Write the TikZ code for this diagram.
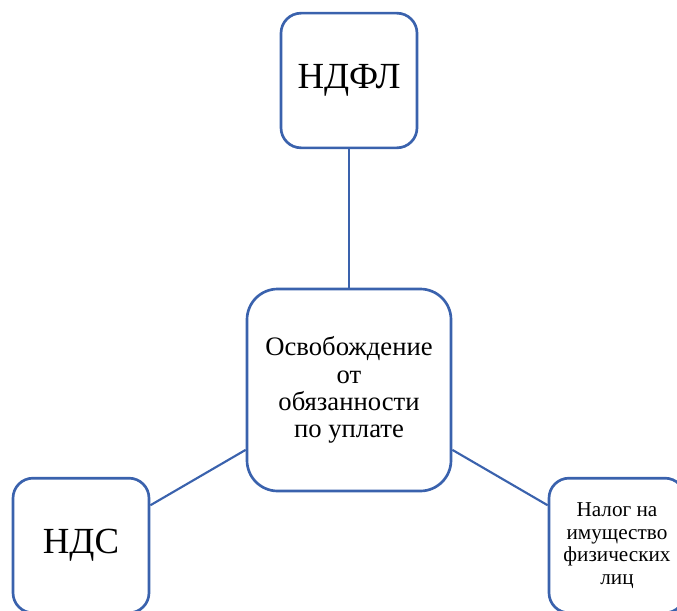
\documentclass[tikz,border=0pt]{standalone}
\usepackage{fontspec}
\setmainfont{Liberation Serif}
\definecolor{frameblue}{HTML}{3A62AD}
\begin{document}
\begin{tikzpicture}[x=0.75pt,y=-0.75pt,
  box/.style={draw=frameblue,line width=2pt,fill=white,rounded corners=15pt,
    minimum width=102pt,minimum height=101pt,inner sep=0pt,align=center},
  hub/.style={box,minimum width=153pt,minimum height=151.5pt,rounded corners=23pt},
  link/.style={draw=frameblue,line width=1.6pt}]
  \useasboundingbox (0,0) rectangle (677,610);
  \clip (0,0) rectangle (677,610);
  % centre and the three taxes around it
  \node[hub,font=\fontsize{20pt}{20.5pt}\selectfont] (c) at (349,390)
    {Освобождение\\от\\обязанности\\по уплате};
  \node[box,font=\fontsize{27.6pt}{31pt}\selectfont] (t) at (349,80.5) {НДФЛ};
  \node[box,font=\fontsize{27.6pt}{31pt}\selectfont] (l) at (81,545.5) {НДС};
  \node[box,font=\fontsize{15.9pt}{16.9pt}\selectfont] (r) at (617,545.5)
    {Налог на\\имущество\\физических\\лиц};
  % connectors
  \draw[link] (t) -- (c);
  \draw[link] (c) -- (l);
  \draw[link] (c) -- (r);
\end{tikzpicture}
\end{document}
